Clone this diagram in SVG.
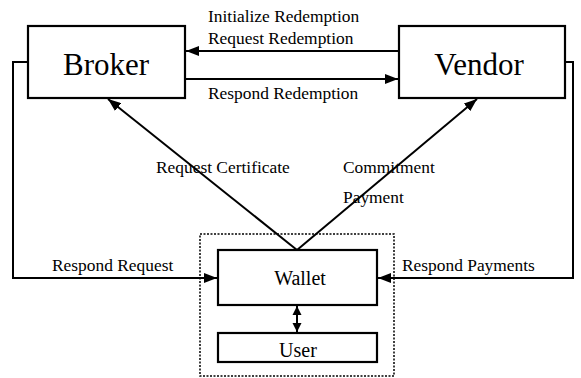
<svg xmlns="http://www.w3.org/2000/svg" width="581" height="378" viewBox="0 0 581 378">
<style>
.box{fill:#fff;stroke:#000;stroke-width:2.2}
.ln{fill:none;stroke:#000;stroke-width:2}
.lbl{font-family:"Liberation Serif","Times New Roman",serif;font-size:17.4px;fill:#000}
.big{font-family:"Liberation Serif","Times New Roman",serif;font-size:31px;fill:#000}
.mid{font-family:"Liberation Serif","Times New Roman",serif;font-size:20px;fill:#000}
</style>
<defs>
<marker id="ah" markerUnits="userSpaceOnUse" markerWidth="14" markerHeight="10" refX="13" refY="5" orient="auto">
<path d="M0,0 L13,5 L0,10 Z" fill="#000"/>
</marker>
<marker id="sh" markerUnits="userSpaceOnUse" markerWidth="10" markerHeight="10" refX="9" refY="5" orient="auto">
<path d="M0,0.5 L9,5 L0,9.5 Z" fill="#000"/>
</marker>
<marker id="shs" markerUnits="userSpaceOnUse" markerWidth="10" markerHeight="10" refX="1" refY="5" orient="auto">
<path d="M10,0.5 L1,5 L10,9.5 Z" fill="#000"/>
</marker>
</defs>
<g id="group-wallet">
<rect x="200" y="234" width="194" height="142" fill="none" stroke="#000" stroke-width="1.5" stroke-dasharray="2,1.5"/>
</g>
<g id="connectors">
<line class="ln" x1="399" y1="51" x2="186" y2="51" marker-end="url(#ah)"/>
<line class="ln" x1="185" y1="79" x2="398" y2="79" marker-end="url(#ah)"/>
<polyline class="ln" points="28,62 13,62 13,278 217,278" marker-end="url(#ah)"/>
<polyline class="ln" points="565,62 573,62 573,278 378,278" marker-end="url(#ah)"/>
<line class="ln" x1="297" y1="250" x2="108" y2="99" marker-end="url(#ah)"/>
<line class="ln" x1="297" y1="250" x2="477" y2="99" marker-end="url(#ah)"/>
<line class="ln" x1="297" y1="306" x2="297" y2="332" marker-start="url(#shs)" marker-end="url(#sh)"/>
<text class="lbl" x="208" y="22">Initialize Redemption</text>
<text class="lbl" x="208" y="44">Request Redemption</text>
<text class="lbl" x="208" y="99">Respond Redemption</text>
<text class="lbl" x="156" y="173">Request Certificate</text>
<text class="lbl" x="343" y="173">Commitment</text>
<text class="lbl" x="343" y="203">Payment</text>
<text class="lbl" x="52" y="271">Respond Request</text>
<text class="lbl" x="402" y="271">Respond Payments</text>
</g>
<g id="broker">
<rect class="box" x="28" y="26" width="157" height="72"/>
<text class="big" x="106" y="75" text-anchor="middle">Broker</text>
</g>
<g id="vendor">
<rect class="box" x="399" y="26" width="166" height="72"/>
<text class="big" x="479" y="75" text-anchor="middle">Vendor</text>
</g>
<g id="wallet">
<rect class="box" x="218" y="250" width="159" height="55"/>
<text class="mid" x="300" y="285" text-anchor="middle">Wallet</text>
</g>
<g id="user">
<rect class="box" x="218" y="333" width="159" height="29"/>
<text class="mid" x="298" y="357" text-anchor="middle">User</text>
</g>
</svg>
